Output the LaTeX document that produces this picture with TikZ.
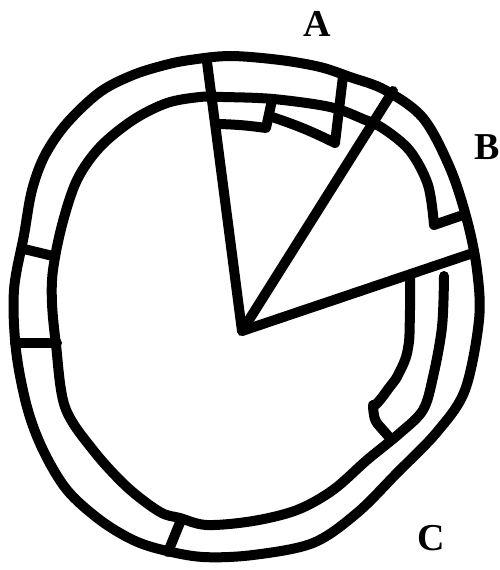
\documentclass[tikz,border=0pt]{standalone}
\usepackage{fontspec}
\setmainfont{Liberation Serif}
\begin{document}
\begin{tikzpicture}[x=1pt,y=-1pt,
  ink/.style={line width=10pt,line cap=round,line join=round,black},
  lab/.style={font=\fontsize{38}{40}\selectfont\bfseries,inner sep=0pt}]
\useasboundingbox (0,0) rectangle (499,570);
% outer ring boundary
\draw[ink] plot[smooth cycle,tension=0.55] coordinates {
 (190,60) (230,56) (280,60) (320,67) (350,77) (385,90) (423,118) (450,168)
 (467,220) (477,270) (479,320) (465,390) (437,432) (397,473) (357,513)
 (313,543) (253,555) (203,557) (163,550) (133,540) (100,520) (67,490)
 (43,450) (27,407) (16,350) (14,290) (24,235) (32,190) (45,155) (67,123)
 (100,92) (133,75) (165,65)};
% middle boundary
\draw[ink] (460,216) -- plot[smooth,tension=0.55] coordinates {
 (434,225) (428,185) (410,151) (384,129) (363,119) (330,107) (273,99)
 (223,97) (200,97) (167,103) (133,120) (100,147) (77,180) (62,225)
 (53,270) (52,303) (56,345) (65,407) (93,450) (127,487) (160,512)
 (180,518) (207,525) (253,521) (297,510) (333,490) (367,460) (400,433)
 (423,410) (433,377) (442,327) (444,276)};
% centre and radial lines
\coordinate (O) at (242,331);
\coordinate (T) at (207,62);
\coordinate (D) at (393,91);
\coordinate (R) at (470,254);
\draw[ink] (T) -- (O) -- (R);
\draw[ink] (O) -- (D);
% inner pieces in sector A
\draw[ink] (219,124) to[bend left=3] (266,128) -- (272,100);
\draw[ink] (272,117) to[bend left=4] (335,143) -- (343,76);
% inner piece below the right line
\draw[ink,rounded corners=4pt] plot[smooth,tension=0.6] coordinates {
 (410,277) (410,310) (408,348) (399,373) (386,392) (373,409)}
 -- (375,421) -- (390,438);
% dividers across the outer ring
\draw[ink] (24,249) -- (53,256);
\draw[ink] (15,343) -- (57,343);
\draw[ink] (181,520) -- (168,552);
% labels
\node[lab] (A) at (317,24) {A};
\node[lab] (B) at (487,147) {B};
\node[lab] (C) at (431,538) {C};
\end{tikzpicture}
\end{document}
